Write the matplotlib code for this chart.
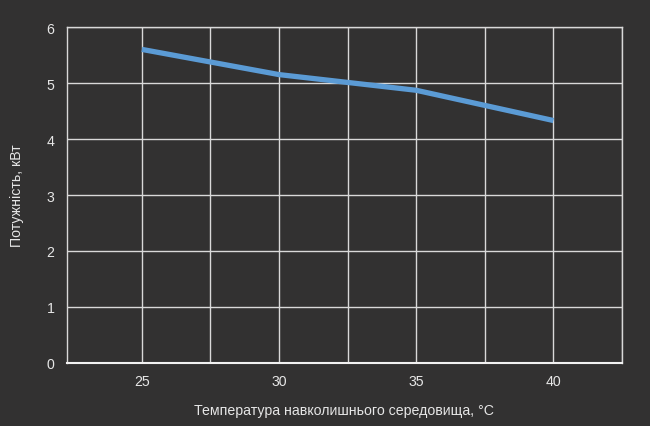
#!/usr/bin/env python3
"""Heat pump capacity vs ambient temperature, dark style."""

import numpy as np
import matplotlib.pyplot as plt

temp_c = [25, 30, 35, 40]
power_kw = [5.6, 5.15, 4.87, 4.33]
x_tick_labels = ["25", "30", "35", "40"]

BG = "#323131"
GRID = "#d9d9d9"
TEXT = "#e6e6e6"
LINE = "#5b9bd5"

plt.rcParams["font.family"] = ["Liberation Sans", "DejaVu Sans"]

fig = plt.figure(figsize=(6.5, 4.27), dpi=100, facecolor=BG)
ax = fig.add_axes([67 / 650, 1 - 364 / 427, (622 - 67) / 650, (364 - 28) / 427])
ax.set_facecolor(BG)

ax.plot(temp_c, power_kw, color=LINE, lw=3.8, solid_capstyle="butt", zorder=3)

ax.set_xlim(22.27, 42.5)
ax.set_ylim(0, 6)

ax.set_xticks(temp_c)
ax.set_xticklabels(x_tick_labels)
ax.set_xticks(np.arange(27.5, 42.6, 5), minor=True)
ax.set_yticks(range(0, 7))

ax.grid(True, which="both", axis="x", color=GRID, lw=1.0)
ax.grid(True, which="major", axis="y", color=GRID, lw=1.0)
ax.set_axisbelow(True)

for side in ["top", "right", "left"]:
    ax.spines[side].set_color(GRID)
    ax.spines[side].set_linewidth(1.0)
ax.spines["bottom"].set_color("#f2f2f2")
ax.spines["bottom"].set_linewidth(1.5)

ax.tick_params(which="both", length=0, colors=TEXT, labelsize=10.2)
ax.tick_params(axis="x", pad=8)
ax.tick_params(axis="y", pad=9)

ax.set_xlabel("Температура навколишнього середовища, °C", color=TEXT, fontsize=10.2, labelpad=11)
ax.set_ylabel("Потужність, кВт", color=TEXT, fontsize=10.2, labelpad=16)

fig.savefig("out.png", dpi=100, facecolor=BG)
